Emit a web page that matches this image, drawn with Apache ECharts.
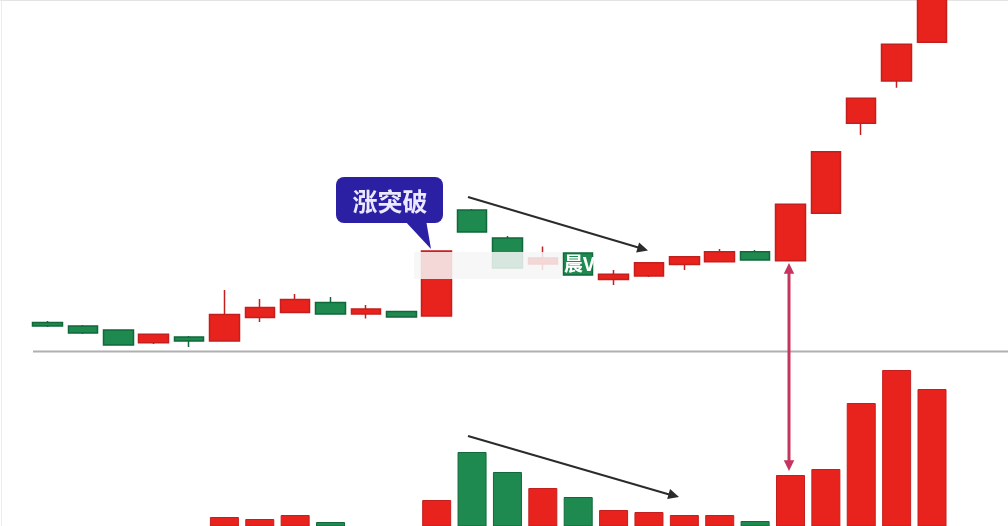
<!DOCTYPE html>
<html>
<head>
<meta charset="utf-8">
<script src="https://cdn.jsdelivr.net/npm/echarts@6/dist/echarts.min.js"></script>
<style>
html,body{margin:0;padding:0;background:#fff;}
#chart{width:1008px;height:526px;}
</style>
</head>
<body>
<div id="chart"></div>
<script>
// ---- data ----
const days = ['D1','D2','D3','D4','D5','D6','D7','D8','D9','D10','D11','D12','D13','D14','D15','D16','D17','D18','D19','D20','D21','D22','D23','D24','D25','D26'];
const opens  = [2.85, 2.50, 2.10, 0.83, 1.40, 1.00, 3.35, 3.85, 4.85, 3.70, 3.95, 3.50, 14.10, 11.30, 8.70, 9.80, 7.15, 7.50, 8.65, 8.93, 9.93, 9.03, 13.77, 22.77, 27.00, 30.87];
const closes = [2.50, 1.80, 0.60, 1.67, 1.00, 3.65, 4.35, 5.15, 3.70, 4.20, 3.40, 10.00, 11.90, 8.30, 9.30, 7.60, 7.67, 8.83, 9.43, 9.93, 9.10, 14.67, 19.93, 25.27, 30.67, 36.10];
const lows   = [2.40, 1.70, 0.55, 0.70, 0.40, 1.00, 2.90, 3.85, 3.70, 3.25, 3.35, 3.50, 11.90, 8.30, 8.10, 7.60, 6.60, 7.40, 8.10, 8.90, 9.10, 9.03, 13.77, 21.60, 26.33, 30.87];
const highs  = [3.00, 2.60, 2.10, 1.70, 1.50, 6.10, 5.20, 5.70, 5.40, 4.60, 4.00, 10.00, 14.20, 11.50, 10.45, 9.80, 8.10, 8.90, 9.50, 10.20, 10.10, 14.70, 19.95, 25.27, 30.67, 36.10];
const volumes = [12, 10, 14, 11, 8, 29, 27, 31, 24, 16, 14, 46, 94, 74, 58, 49, 36, 34, 31, 31, 25, 71, 77, 143, 176, 157];

const RED = '#e8231d', RED_B = '#c41f1f';
const GREEN = '#1e8a4f', GREEN_B = '#11683a';

const kData = days.map((d, i) => [opens[i], closes[i], lows[i], highs[i]]);
const volData = volumes.map((v, i) => {
  const up = closes[i] >= opens[i];
  return {value: v, itemStyle: {color: up ? RED : GREEN, borderColor: up ? RED_B : GREEN_B, borderWidth: 1}};
});

const chart = echarts.init(document.getElementById('chart'), null, {renderer: 'canvas'});

function arrowHead(tx, ty, fx, fy, size, color) {
  const ang = Math.atan2(ty - fy, tx - fx);
  const a1 = ang + Math.PI - 0.45, a2 = ang + Math.PI + 0.45;
  return {
    type: 'polygon', z: 100,
    shape: {points: [[tx, ty], [tx + size * Math.cos(a1), ty + size * Math.sin(a1)], [tx + size * Math.cos(a2), ty + size * Math.sin(a2)]]},
    style: {fill: color}
  };
}
function arrowLine(x1, y1, x2, y2, color, w) {
  return {type: 'line', z: 100, shape: {x1, y1, x2, y2}, style: {stroke: color, lineWidth: w}};
}

const option = {
  backgroundColor: '#ffffff',
  animation: false,
  grid: [
    {left: 29.8, right: 58.3, top: 0, bottom: 175},
    {left: 29.8, right: 58.3, top: 360, bottom: 0}
  ],
  xAxis: [
    {type: 'category', data: days, gridIndex: 0, show: false, boundaryGap: true},
    {type: 'category', data: days, gridIndex: 1, show: false, boundaryGap: true}
  ],
  yAxis: [
    {type: 'value', gridIndex: 0, min: 0, max: 35.1, show: false},
    {type: 'value', gridIndex: 1, min: 20, max: 186, show: false}
  ],
  series: [
    {
      type: 'candlestick', xAxisIndex: 0, yAxisIndex: 0, data: kData,
      barWidth: 30, clip: true,
      itemStyle: {color: RED, color0: GREEN, borderColor: RED_B, borderColor0: GREEN_B, borderWidth: 1.5}
    },
    {
      type: 'bar', xAxisIndex: 1, yAxisIndex: 1, data: volData,
      barWidth: 29, clip: true
    }
  ],
  graphic: [
    {type: 'line', z: 1, shape: {x1: 0, y1: 0.5, x2: 1008, y2: 0.5}, style: {stroke: '#e4e4e4', lineWidth: 1}},
    {type: 'line', z: 1, shape: {x1: 1.5, y1: 0, x2: 1.5, y2: 526}, style: {stroke: '#ececec', lineWidth: 1}},
    {type: 'line', z: 1, shape: {x1: 33, y1: 351.5, x2: 1008, y2: 351.5}, style: {stroke: '#b0b0b0', lineWidth: 2}},
    {type: 'rect', z: 90, shape: {x: 414, y: 252, width: 148, height: 27}, style: {fill: 'rgba(246,246,246,0.86)'}},
    {type: 'text', z: 91, style: {text: '晨V', x: 564, y: 264, fill: '#ffffff', font: 'bold 19px "Noto Sans CJK SC"', textVerticalAlign: 'middle'}},
    {type: 'polygon', z: 100, shape: {points: [[404, 220], [426, 220], [431, 249]]}, style: {fill: '#2b20a3'}},
    {type: 'rect', z: 100, shape: {x: 336, y: 177, width: 107, height: 46, r: 8}, style: {fill: '#2b20a3'}},
    {type: 'text', z: 101, style: {text: '涨突破', x: 390, y: 201, fill: '#ece8ff', font: 'bold 25px "Noto Sans CJK SC"', textAlign: 'center', textVerticalAlign: 'middle'}},
    arrowLine(468, 197, 640, 248, '#2b2b2b', 2),
    arrowHead(648, 250.5, 468, 197, 12, '#2b2b2b'),
    arrowLine(468, 436, 671, 495, '#2b2b2b', 2),
    arrowHead(679, 497, 468, 436, 12, '#2b2b2b'),
    arrowLine(789, 272, 789, 463, '#c4345e', 3),
    arrowHead(789, 263, 789, 470, 12, '#c4345e'),
    arrowHead(789, 471, 789, 263, 12, '#c4345e')
  ]
};
chart.setOption(option);
</script>
</body>
</html>
